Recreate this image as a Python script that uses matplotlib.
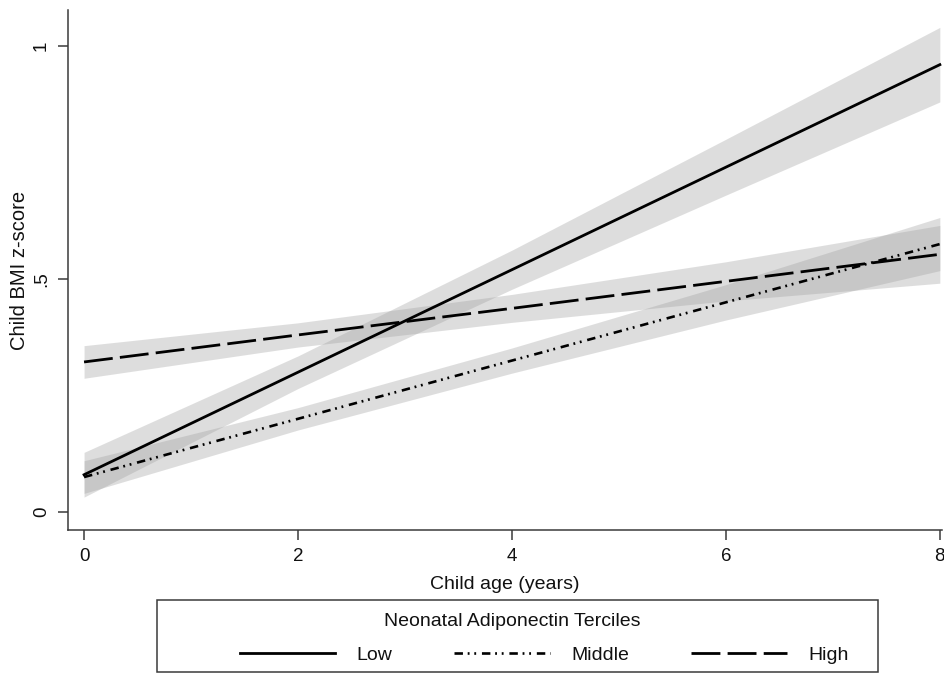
import numpy as np
import matplotlib
matplotlib.use("Agg")
import matplotlib.pyplot as plt
from matplotlib.lines import Line2D
from matplotlib.patches import Rectangle

plt.rcParams['font.family'] = ['Liberation Sans', 'DejaVu Sans']

# Data
age = [0, 2, 4, 6, 8]

low_fit = [0.08, 0.30, 0.52, 0.74, 0.96]
low_lo = [0.032, 0.265, 0.478, 0.680, 0.880]
low_hi = [0.128, 0.335, 0.562, 0.800, 1.040]

mid_fit = [0.075, 0.200, 0.325, 0.450, 0.575]
mid_lo = [0.040, 0.176, 0.298, 0.412, 0.518]
mid_hi = [0.110, 0.224, 0.352, 0.488, 0.632]

high_fit = [0.322, 0.380, 0.437, 0.495, 0.553]
high_lo = [0.287, 0.354, 0.407, 0.453, 0.491]
high_hi = [0.357, 0.406, 0.467, 0.537, 0.615]

groups = ['Low', 'Middle', 'High']
xticks = [0, 2, 4, 6, 8]
yticks = [0, 0.5, 1]
ytick_labels = ['0', '.5', '1']

W, H = 945, 675
fig = plt.figure(figsize=(W / 100, H / 100), dpi=100)
ax = fig.add_axes([68 / W, 1 - 530 / H, 874 / W, 520 / H])

# confidence bands
band_col = '#a0a0a0'
for lo, hi in [(low_lo, low_hi), (mid_lo, mid_hi), (high_lo, high_hi)]:
    ax.fill_between(age, lo, hi, color=band_col, alpha=0.35, lw=0)

styles = {
    'Low': dict(ls='-', lw=2.0),
    'Middle': dict(ls=(0, (3.2, 1.8, 0.7, 1.8, 0.7, 2.2)), lw=1.9),
    'High': dict(ls=(0, (10.4, 2.6)), lw=2.0),
}
ax.plot(age, low_fit, color='black', **styles['Low'])
ax.plot(age, high_fit, color='black', **styles['High'])
ax.plot(age, mid_fit, color='black', **styles['Middle'])

ax.set_xlim(-0.15, 8.02)
ax.set_ylim(-0.0386, 1.0773)

ax.spines['top'].set_visible(False)
ax.spines['right'].set_visible(False)
for s in ['left', 'bottom']:
    ax.spines[s].set_color('#3a3a3a')
    ax.spines[s].set_linewidth(1.1)

ax.set_xticks(xticks)
ax.set_xticklabels([str(t) for t in xticks])
ax.set_yticks(yticks)
ax.set_yticklabels(ytick_labels, rotation=90, va='center')
ax.tick_params(direction='out', length=7, width=1.1, color='#3a3a3a',
               labelsize=13.5, pad=6, labelcolor='#111111')

ax.set_xlabel('Child age (years)', fontsize=14, color='#111111', labelpad=8)
ax.set_ylabel('Child BMI z-score', fontsize=14.5, color='#111111')
ax.yaxis.set_label_coords(-0.045, 0.5)

# legend box below the plot
box = Rectangle((157 / W, 1 - 672 / H), 721 / W, 72 / H,
                transform=fig.transFigure, fill=False,
                edgecolor='#3a3a3a', lw=1.1)
fig.patches.append(box)
fig.text(512 / W, 1 - 622 / H, 'Neonatal Adiponectin Terciles',
         ha='center', va='center', fontsize=14, color='#111111')

handles = [Line2D([0], [0], color='black', **styles[g]) for g in groups]
fig.legend(handles, groups, ncol=3, frameon=False, fontsize=14,
           loc='center', bbox_to_anchor=(544 / W, 1 - 655 / H),
           handlelength=4.9, handletextpad=1.1, columnspacing=3.2,
           borderaxespad=0, labelcolor='#111111')

fig.savefig('out.png', dpi=100)
